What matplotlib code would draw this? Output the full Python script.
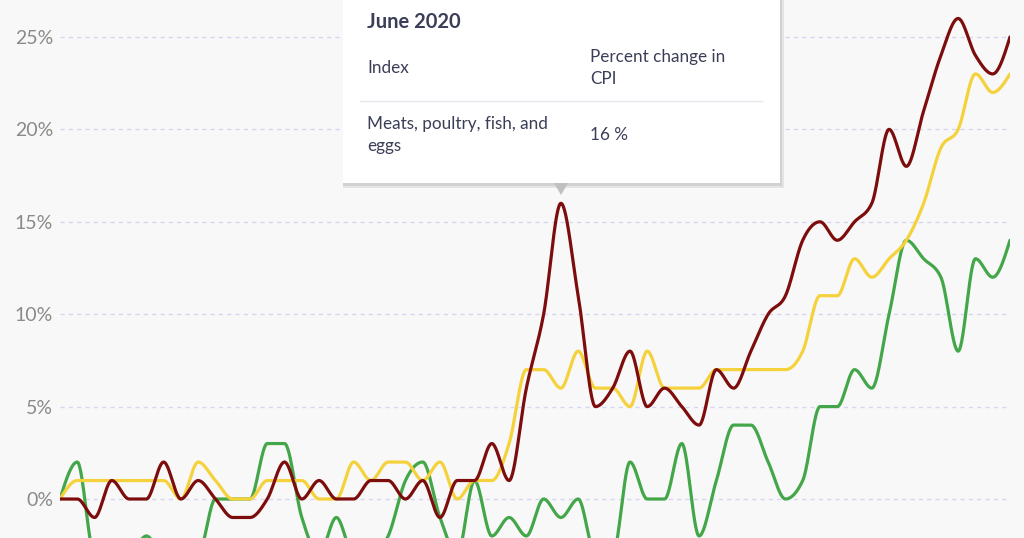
import numpy as np
import pandas as pd
from matplotlib import pyplot as plt
from matplotlib.patches import Rectangle, Polygon

plt.rcParams['font.family'] = ['Lato', 'DejaVu Sans']

# monthly points, Jan 2018 .. Aug 2022
months = pd.date_range("2018-01-01", periods=56, freq="MS")

# percent change in CPI
meats = [0, 0, -1, 1, 0, 0, 2, 0, 1, 0, -1, -1, 0,
         2, 0, 1, 0, 0, 1, 1, 0, 1, -1, 1, 1,
         3, 1, 6, 10, 16, 11, 5, 6, 8, 5, 6, 5,
         4, 7, 6, 8, 10, 11, 14, 15, 14, 15, 16, 20,
         18, 21, 24, 26, 24, 23, 25]
index_yellow = [0, 1, 1, 1, 1, 1, 1, 0, 2, 1, 0, 0,
                1, 1, 1, 0, 0, 2, 1, 2, 2, 1, 2, 0,
                1, 1, 3, 7, 7, 6, 8, 6, 6, 5, 8, 6,
                6, 6, 7, 7, 7, 7, 7, 8, 11, 11, 13, 12,
                13, 14, 16, 19, 20, 23, 22, 23]
index_green = [0, 2, -3, -3, -3, -2, -3, -3, -3, 0, 0, 0,
               3, 3, -1, -3, -1, -3, -3, -2, 1, 2, -1, -3,
               1, -2, -1, -2, 0, -1, 0, -3, -3, 2, 0, 0,
               3, -2, 1, 4, 4, 2, 0, 1, 5, 5, 7, 6,
               10, 14, 13, 12, 8, 13, 12, 14]

y_ticks = [0, 5, 10, 15, 20, 25]
tip_month = "June 2020"
tip_index = "Meats, poultry, fish, and\neggs"
tip_header = ["Index", "Percent change in\nCPI"]


# smooth line like d3 curveMonotoneX
def monotone(xs, ys, steps=30):
    x = np.asarray(xs, float)
    y = np.asarray(ys, float)
    h = np.diff(x)
    s = np.diff(y) / h
    t = np.zeros_like(y)
    for i in range(1, len(y) - 1):
        p = (s[i - 1] * h[i] + s[i] * h[i - 1]) / (h[i - 1] + h[i])
        t[i] = (np.sign(s[i - 1]) + np.sign(s[i])) * min(abs(s[i - 1]), abs(s[i]), 0.5 * abs(p))
    t[0] = (3 * s[0] - t[1]) / 2
    t[-1] = (3 * s[-1] - t[-2]) / 2
    u = np.linspace(0, 1, steps, endpoint=False)
    h00 = 2 * u**3 - 3 * u**2 + 1
    h10 = u**3 - 2 * u**2 + u
    h01 = -2 * u**3 + 3 * u**2
    h11 = u**3 - u**2
    px, py = [], []
    for i in range(len(y) - 1):
        px.append(x[i] + u * h[i])
        py.append(h00 * y[i] + h10 * h[i] * t[i] + h01 * y[i + 1] + h11 * h[i] * t[i + 1])
    px.append([x[-1]])
    py.append([y[-1]])
    return np.concatenate(px), np.concatenate(py)


W, H = 1024, 538
fig = plt.figure(figsize=(W / 100, H / 100), dpi=100)
fig.patch.set_facecolor('#f8f8f8')

ax = fig.add_axes([60 / W, 0, 950 / W, 1])
ax.set_facecolor('#f8f8f8')
x = np.arange(len(months))

for vals, col in [(index_green, '#43a74a'), (index_yellow, '#f5d23c'), (meats, '#7d0d0d')]:
    sx, sy = monotone(x, vals)
    ax.plot(sx, sy, color=col, lw=2.3, solid_capstyle='round', zorder=3)

ax.set_xlim(0, len(months) - 1)
ax.set_ylim(-2.11, 27.0)
for v in y_ticks:
    ax.axhline(v, color='#d6d6f2', lw=1, ls=(0, (3, 3)), zorder=1)
ax.set_yticks(y_ticks)
ax.set_yticklabels([str(v) + '%' for v in y_ticks], fontsize=14, color='#8a8a8a')
ax.tick_params(axis='y', length=0, pad=5)
ax.set_xticks([])
for sp in ax.spines.values():
    sp.set_visible(False)

# tooltip drawn in pixel coordinates on top
ov = fig.add_axes([0, 0, 1, 1], zorder=10)
ov.set_xlim(0, W)
ov.set_ylim(H, 0)
ov.axis('off')
ov.patch.set_alpha(0)

ov.add_patch(Rectangle((343, -10), 441, 198, color='#e4e4e4', lw=0))
ov.add_patch(Rectangle((343, -10), 439, 196, color='#d2d2d2', lw=0))
ov.add_patch(Rectangle((343, -10), 437, 193, color='white', lw=0))
ov.add_patch(Polygon([(554, 183), (568, 183), (561, 195)], closed=True, color='#c0c0c0', lw=0))
ov.plot([360, 762], [101, 101], color='#e6e6ee', lw=1)

txt = '#3b3e57'
ov.text(367, 22, tip_month, fontsize=14.5, fontweight='bold', color=txt, va='center')
ov.text(367, 68, tip_header[0], fontsize=12.3, color=txt, va='center')
ov.text(590, 68, tip_header[1], fontsize=12.3, color=txt, va='center', linespacing=1.45)
ov.text(367, 135, tip_index, fontsize=12.3, color=txt, va='center', linespacing=1.45)
ov.text(590, 135, str(meats[months.get_loc(pd.Timestamp("2020-06-01"))]) + ' %',
        fontsize=12.3, color=txt, va='center')

fig.savefig('out.png', dpi=100, facecolor=fig.get_facecolor())
